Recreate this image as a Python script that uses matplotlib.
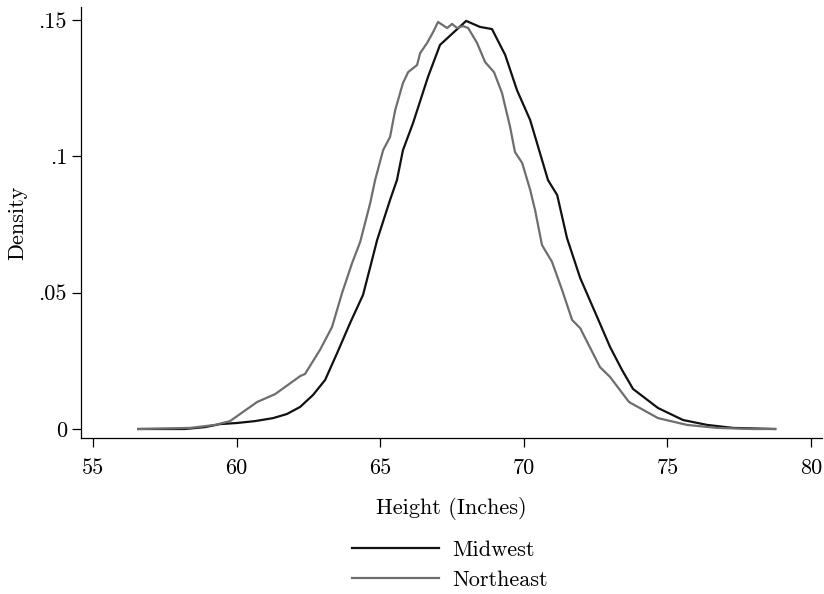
import matplotlib
matplotlib.use("Agg")
import matplotlib.pyplot as plt

# Kernel density of height by region
midwest_x = [56.57, 58.2, 58.9, 59.42, 60.01, 60.64, 61.27, 61.75, 62.21, 62.66,
             63.08, 63.5, 63.95, 64.4, 64.65, 64.89, 65.34, 65.58, 65.79, 66.14,
             66.66, 67.08, 67.99, 68.47, 68.89, 69.35, 69.76, 70.22, 70.84, 71.16,
             71.5, 71.96, 72.55, 73.0, 73.42, 73.8, 74.67, 75.54, 76.38, 77.28, 78.75]
midwest_y = [0.0, 0.0, 0.0007, 0.0018, 0.0022, 0.0029, 0.004, 0.0055, 0.0081, 0.0125,
             0.018, 0.0279, 0.0389, 0.0492, 0.0594, 0.0693, 0.084, 0.0913, 0.1023, 0.1122,
             0.1291, 0.1409, 0.1497, 0.1475, 0.1467, 0.1372, 0.1243, 0.1133, 0.0913, 0.0858,
             0.0701, 0.0554, 0.0411, 0.0301, 0.0216, 0.0147, 0.0077, 0.0033, 0.0015, 0.0004, 0.0]

northeast_x = [56.57, 58.38, 59.25, 59.77, 60.71, 61.34, 62.21, 62.38, 62.9, 63.32,
               63.67, 64.02, 64.3, 64.65, 64.82, 65.1, 65.34, 65.52, 65.79, 65.97,
               66.28, 66.39, 66.63, 66.84, 67.01, 67.33, 67.5, 67.67, 67.88, 68.06,
               68.37, 68.65, 68.96, 69.24, 69.52, 69.69, 69.94, 70.22, 70.39, 70.63,
               70.98, 71.33, 71.68, 71.96, 72.65, 73.0, 73.66, 74.67, 75.68, 76.73,
               77.98, 78.75]
northeast_y = [0.0, 0.0004, 0.0015, 0.0029, 0.0099, 0.0128, 0.0194, 0.0202, 0.029, 0.0374,
               0.0499, 0.0609, 0.0686, 0.0829, 0.0913, 0.1023, 0.1071, 0.117, 0.1269, 0.1309,
               0.1335, 0.1379, 0.1416, 0.1456, 0.1493, 0.1471, 0.1486, 0.1471, 0.1478, 0.1471,
               0.1416, 0.1346, 0.1309, 0.1232, 0.1108, 0.1016, 0.0976, 0.0877, 0.0803, 0.0675,
               0.0613, 0.051, 0.04, 0.037, 0.0227, 0.0191, 0.0099, 0.004, 0.0015, 0.0004,
               0.0, 0.0]

x_ticks = [55, 60, 65, 70, 75, 80]
y_ticks = [0, 0.05, 0.1, 0.15]
y_tick_labels = ["0", ".05", ".1", ".15"]

plt.rcParams.update({
    'font.family': 'cmr10',
    'axes.formatter.use_mathtext': True,
    'font.size': 16,
    'axes.linewidth': 0.9,
    'xtick.major.size': 6.5,
    'ytick.major.size': 6.5,
    'xtick.major.width': 0.9,
    'ytick.major.width': 0.9,
})

fig = plt.figure(figsize=(8.24, 5.94), dpi=100)
ax = fig.add_axes([81 / 824, 1 - 438 / 594, (822 - 81) / 824, (438 - 7) / 594])

ax.plot(midwest_x, midwest_y, color='#111111', lw=1.6, label='Midwest')
ax.plot(northeast_x, northeast_y, color='#6e6e6e', lw=1.6, label='Northeast')

ax.set_xlim(54.58, 80.38)
ax.set_ylim(-0.0033, 0.1548)
ax.set_xticks(x_ticks)
ax.set_xticklabels([str(t) for t in x_ticks])
ax.set_yticks(y_ticks)
ax.set_yticklabels(y_tick_labels)
ax.tick_params(axis='x', labelsize=16, pad=8)
ax.tick_params(axis='y', labelsize=16, pad=3.5)

for side in ['top', 'right']:
    ax.spines[side].set_visible(False)

ax.set_xlabel('Height (Inches)', fontsize=16, labelpad=14)
ax.set_ylabel('Density', fontsize=16, labelpad=8)

fig.legend(loc='center', bbox_to_anchor=(450 / 824, 1 - 565 / 594), frameon=False,
           fontsize=16, handlelength=3.9, labelspacing=0.45, handletextpad=0.6,
           borderaxespad=0)

fig.savefig('out.png', dpi=100)
